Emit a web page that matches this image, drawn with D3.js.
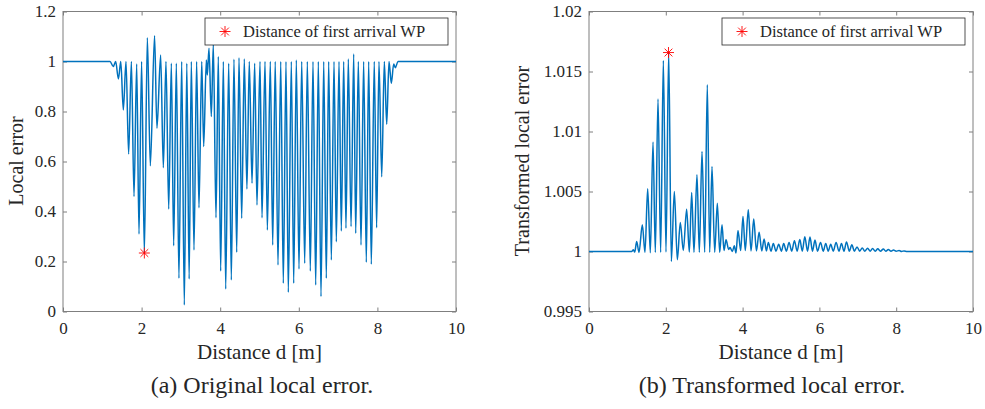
<!DOCTYPE html>
<html>
<head>
<meta charset="utf-8">
<script src="https://cdn.jsdelivr.net/npm/d3@7"></script>
<style>
  body { margin: 0; background: #fff; }
  svg text { font-family: "Liberation Serif", "DejaVu Serif", "Times New Roman", serif; fill: #262626; }
</style>
</head>
<body>
<div id="chart"></div>
<script>
// tick labels
var xTicks = [0, 2, 4, 6, 8, 10];
var leftTicks = [0, 0.2, 0.4, 0.6, 0.8, 1, 1.2];
var rightTicks = [0.995, 1, 1.005, 1.01, 1.015, 1.02];

var leftD = [0, 1.196, 1.28, 1.34, 1.41, 1.47, 1.535, 1.603, 1.67, 1.74, 1.807, 1.875, 1.934, 2.0, 2.07,
  2.146, 2.222, 2.33, 2.39, 2.485, 2.553, 2.62, 2.69, 2.757, 2.816, 2.884, 2.95, 3.02, 3.087, 3.15, 3.21,
  3.265, 3.333, 3.40, 3.46, 3.53, 3.58, 3.647, 3.672, 3.715, 3.774, 3.825, 3.893, 3.952, 4.012, 4.08, 4.14,
  4.216, 4.283, 4.35, 4.42, 4.478, 4.547, 4.613, 4.68, 4.74, 4.81, 4.877, 4.936, 5.013, 5.064, 5.14, 5.2,
  5.275, 5.336, 5.40, 5.471, 5.54, 5.606, 5.674, 5.733, 5.81, 5.87, 5.937, 6.005, 6.074, 6.15, 6.217, 6.293,
  6.361, 6.43, 6.497, 6.565, 6.634, 6.70, 6.76, 6.828, 6.896, 6.955, 7.023, 7.082, 7.142, 7.2, 7.26, 7.33,
  7.397, 7.448, 7.515, 7.583, 7.65, 7.718, 7.778, 7.845, 7.92, 7.98, 8.04, 8.11, 8.176, 8.237, 8.295, 8.354,
  8.415, 8.456, 8.524, 10];
var leftErr = [1, 1, 0.98, 1.0, 0.93, 1.0, 0.806, 1.0, 0.63, 1.0, 0.46, 0.99, 0.31, 1.0, 0.234,
  1.095, 0.583, 1.103, 0.733, 1.026, 0.575, 1.0, 0.41, 0.993, 0.263, 0.993, 0.133, 1.0, 0.026, 0.993, 0.13,
  1.0, 0.246, 1.0, 0.415, 1.0, 0.66, 1.006, 0.946, 1.053, 0.78, 1.069, 0.375, 1.02, 0.162, 1.0, 0.09,
  0.993, 0.126, 1.009, 0.237, 1.015, 0.373, 1.01, 0.49, 1.0, 0.513, 0.993, 0.426, 1.0, 0.375, 1.0, 0.326,
  1.0, 0.266, 1.0, 0.186, 1.0, 0.113, 1.0, 0.077, 1.0, 0.113, 1.006, 0.17, 1.0, 0.193, 1.0, 0.162,
  1.0, 0.106, 1.0, 0.06, 1.0, 0.133, 1.0, 0.206, 1.0, 0.279, 1.0, 0.322, 1.0, 0.333, 1.01, 0.34,
  1.03, 0.313, 1.0, 0.266, 1.0, 0.197, 1.0, 0.189, 1.0, 0.335, 1.0, 0.539, 1.0, 0.749, 1.0, 0.913,
  0.99, 0.975, 1.0, 1];

// (b) transformed local error
var rightD = [0, 1.111, 1.155, 1.19, 1.242, 1.302, 1.389, 1.458, 1.528, 1.597, 1.667, 1.727, 1.797, 1.866,
  1.936, 2.005, 2.075, 2.144, 2.222, 2.30, 2.378, 2.456, 2.543, 2.613, 2.674, 2.734, 2.812, 2.873, 2.943,
  3.013, 3.081, 3.143, 3.203, 3.273, 3.342, 3.403, 3.464, 3.516, 3.568, 3.638, 3.672, 3.733, 3.784, 3.828,
  3.88, 3.95, 4.01, 4.07, 4.148, 4.22, 4.29, 4.36, 4.43, 4.50, 4.56, 4.62, 4.67, 4.74, 4.80, 4.87, 4.94,
  5.01, 5.07, 5.14, 5.21, 5.28, 5.35, 5.42, 5.49, 5.555, 5.62, 5.69, 5.755, 5.82, 5.885, 5.95, 6.03, 6.10,
  6.165, 6.23, 6.295, 6.36, 6.435, 6.51, 6.575, 6.64, 6.705, 6.78, 6.845, 6.91, 6.98, 7.05, 7.115, 7.185,
  7.255, 7.32, 7.385, 7.455, 7.52, 7.59, 7.665, 7.73, 7.795, 7.865, 7.93, 8.00, 8.075, 8.14, 8.205, 8.28, 10];
var rightErr = [1, 1, 1.00014, 0.99995, 1.00083, 0.99992, 1.00222, 0.99992, 1.00523, 0.9999, 1.00912, 0.99992,
  1.0127, 0.99993, 1.01592, 0.99995, 1.01658, 0.99917, 1.005, 0.99931, 1.00242, 1.00008, 1.00353, 0.99995,
  1.00492, 0.99993, 1.00639, 0.99993, 1.00833, 0.99993, 1.01389, 0.99993, 1.00708, 0.99993, 1.00403, 0.99993,
  1.00222, 1.00008, 1.00097, 1.00017, 1.00033, 1.0, 1.00047, 0.99987, 1.00175, 1.00008, 1.00292, 1.00008,
  1.00347, 1.00005, 1.0027, 1.00005, 1.0016, 1.00005, 1.00104, 1.00005, 1.00075, 1.00003, 1.00067, 1.00003,
  1.00061, 1.00003, 1.00067, 1.00003, 1.00075, 1.00003, 1.00089, 1.00003, 1.001, 1.00003, 1.00123, 1.00003,
  1.0012, 1.00003, 1.00095, 1.00003, 1.00075, 1.00003, 1.00067, 1.00003, 1.00061, 1.00003, 1.00075, 1.00003,
  1.00067, 1.00003, 1.0008, 1.00003, 1.00056, 1.00003, 1.00038, 1.00003, 1.0003, 1.00003, 1.00027, 1.00003,
  1.00024, 1.00003, 1.00022, 1.00003, 1.0002, 1.00003, 1.00016, 1.00003, 1.00012, 1.00002, 1.00008, 1.00001,
  1.00005, 1.0, 1];

// first arrival WP
var arrivalD = 2.07;
var arrivalLeft = 0.234;
var arrivalRight = 1.01658;

var serif = "'Liberation Serif', 'DejaVu Serif', 'Times New Roman', serif";

var svg = d3.select("#chart").append("svg")
    .attr("width", 985)
    .attr("height", 409);

function drawPanel(p) {
  var x = d3.scaleLinear().domain([0, 10]).range([p.left, p.right]);
  var y = d3.scaleLinear().domain(p.yDomain).range([311.5, 11.5]);
  var g = svg.append("g").attr("font-family", serif);

  g.append("clipPath").attr("id", p.id)
    .append("rect")
    .attr("x", p.left).attr("y", 11.5)
    .attr("width", p.right - p.left).attr("height", 300);

  // axes, ticks pointing in on every side
  var fmt = d3.format("~g");
  g.append("g").attr("transform", "translate(0,311.5)")
    .call(d3.axisBottom(x).tickValues(xTicks).tickSize(-4).tickPadding(10).tickFormat(fmt));
  g.append("g").attr("transform", "translate(0,11.5)")
    .call(d3.axisTop(x).tickValues(xTicks).tickSize(-4).tickFormat(""));
  g.append("g").attr("transform", "translate(" + p.left + ",0)")
    .call(d3.axisLeft(y).tickValues(p.yTicks).tickSize(-4).tickPadding(7).tickFormat(fmt));
  g.append("g").attr("transform", "translate(" + p.right + ",0)")
    .call(d3.axisRight(y).tickValues(p.yTicks).tickSize(-4).tickFormat(""));
  g.selectAll(".domain").remove();
  g.selectAll("g").attr("font-family", serif);
  g.selectAll(".tick line").attr("stroke", "#7f7f7f");
  g.selectAll(".tick text").attr("font-size", 17).attr("fill", "#262626");

  g.append("rect")
    .attr("x", p.left).attr("y", 11.5)
    .attr("width", p.right - p.left).attr("height", 300)
    .attr("fill", "none").attr("stroke", "#7f7f7f").attr("stroke-width", 1);

  var line = d3.line()
    .x(function(d, i) { return x(p.d[i]); })
    .y(function(d) { return y(d); })
    .curve(d3.curveMonotoneX);

  g.append("path")
    .datum(p.v)
    .attr("clip-path", "url(#" + p.id + ")")
    .attr("d", line)
    .attr("fill", "none")
    .attr("stroke", "#0072BD")
    .attr("stroke-width", 1.5);

  star(g, x(arrivalD), y(p.star));

  // legend
  var lx = p.right - 251, ly = 18;
  g.append("rect")
    .attr("x", lx).attr("y", ly).attr("width", 243).attr("height", 27)
    .attr("fill", "#fff").attr("stroke", "#262626").attr("stroke-width", 0.8);
  star(g, lx + 20, ly + 13.5);
  g.append("text")
    .attr("x", lx + 38).attr("y", ly + 19)
    .attr("font-size", 16.5)
    .text("Distance of first arrival WP");

  var cx = (p.left + p.right) / 2;
  g.append("text")
    .attr("x", cx).attr("y", 359)
    .attr("text-anchor", "middle").attr("font-size", 21)
    .text("Distance d [m]");
  g.append("text")
    .attr("transform", "translate(" + p.labelX + ",161) rotate(-90)")
    .attr("text-anchor", "middle").attr("font-size", 20)
    .text(p.ylabel);
  g.append("text")
    .attr("x", p.captionX).attr("y", 393)
    .attr("text-anchor", "middle").attr("font-size", 24)
    .text(p.caption);
}

function star(g, cx, cy) {
  var r = 5.5, s = r * 0.707;
  var path = "M" + (cx - r) + "," + cy + "H" + (cx + r) +
    "M" + cx + "," + (cy - r) + "V" + (cy + r) +
    "M" + (cx - s) + "," + (cy - s) + "L" + (cx + s) + "," + (cy + s) +
    "M" + (cx - s) + "," + (cy + s) + "L" + (cx + s) + "," + (cy - s);
  g.append("path").attr("d", path)
    .attr("stroke", "#ff0000").attr("stroke-width", 0.9).attr("fill", "none");
}

drawPanel({
  id: "clipA", left: 63, right: 456,
  yDomain: [0, 1.2], yTicks: leftTicks,
  d: leftD, v: leftErr, star: arrivalLeft,
  ylabel: "Local error", labelX: 23,
  caption: "(a) Original local error.", captionX: 262
});

drawPanel({
  id: "clipB", left: 589, right: 973,
  yDomain: [0.995, 1.02], yTicks: rightTicks,
  d: rightD, v: rightErr, star: arrivalRight,
  ylabel: "Transformed local error", labelX: 529,
  caption: "(b) Transformed local error.", captionX: 772
});
</script>
</body>
</html>
